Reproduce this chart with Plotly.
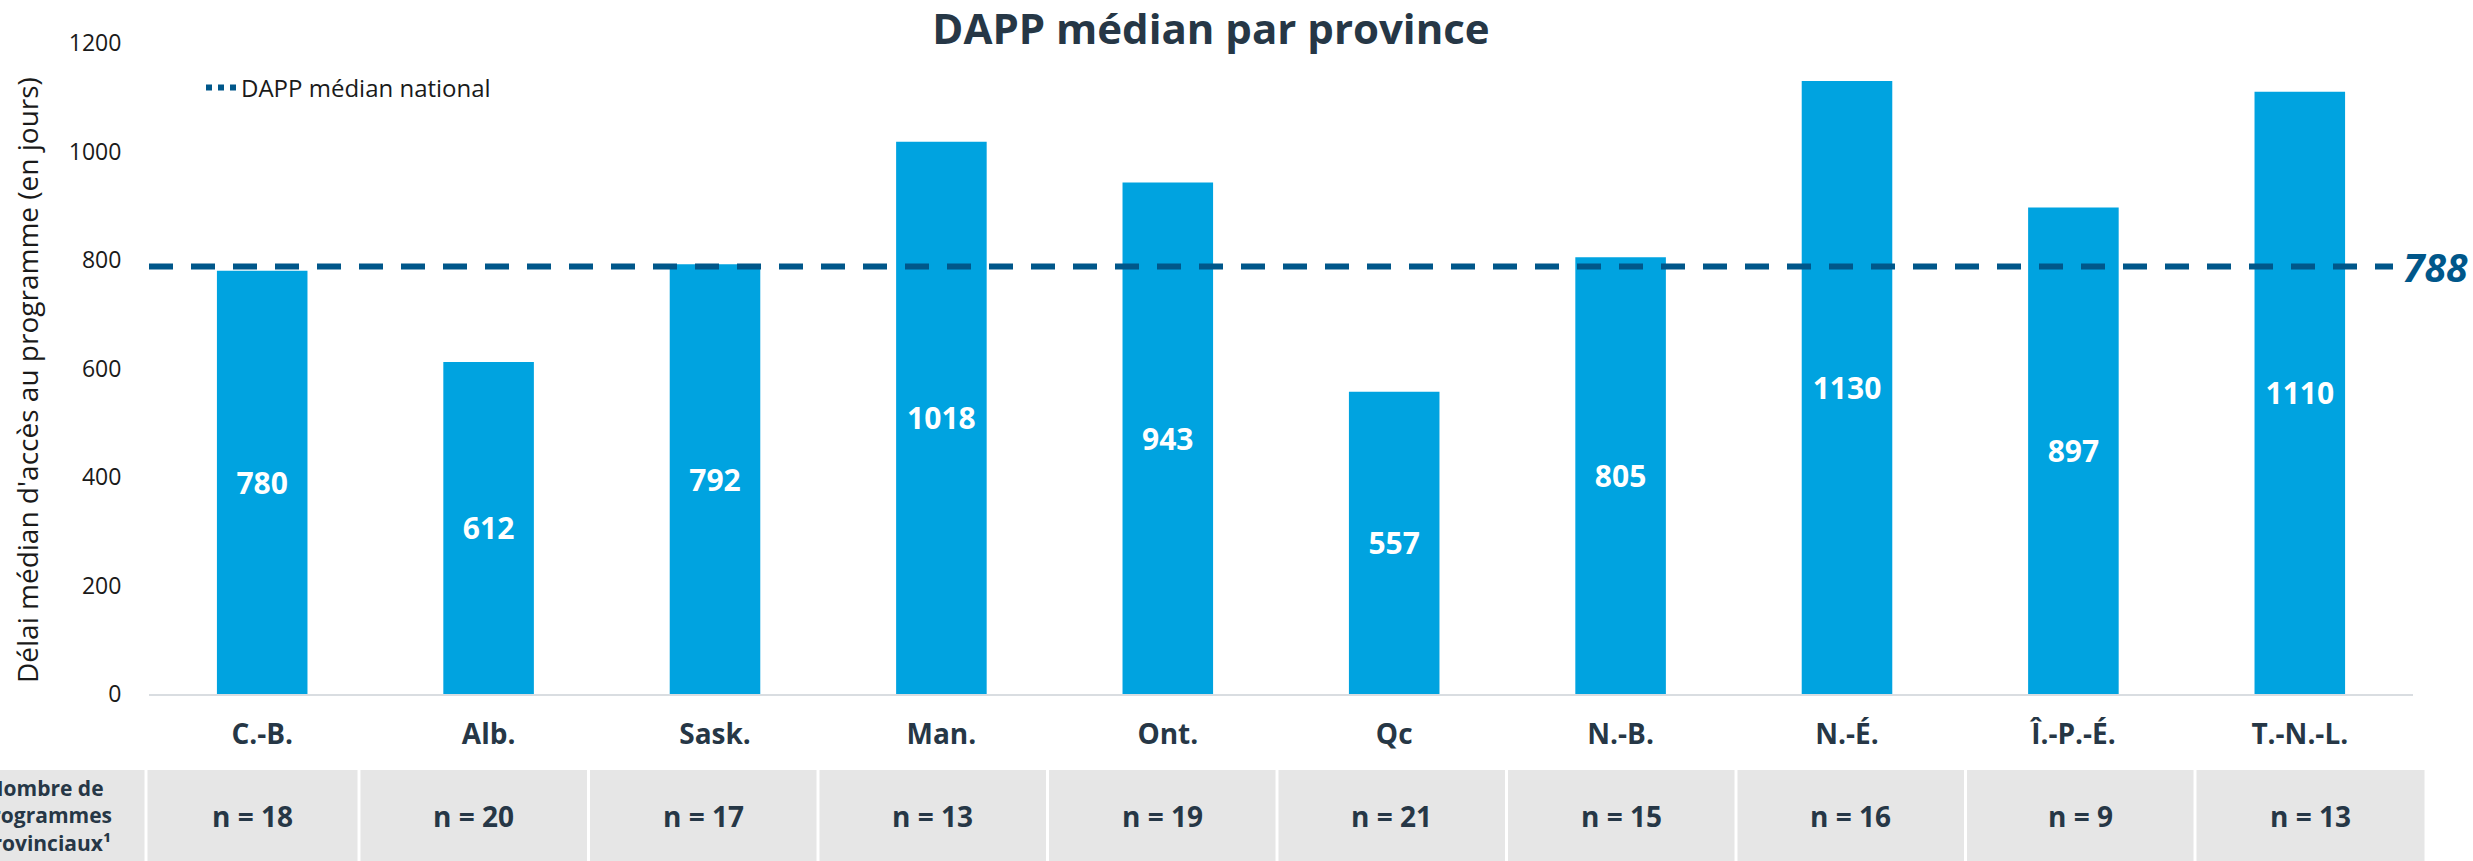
import plotly.graph_objects as go

# data
provinces = ["C.-B.", "Alb.", "Sask.", "Man.", "Ont.", "Qc", "N.-B.", "N.-É.", "Î.-P.-É.", "T.-N.-L."]
dapp_median = [780, 612, 792, 1018, 943, 557, 805, 1130, 897, 1110]
n_programs = [18, 20, 17, 13, 19, 21, 15, 16, 9, 13]
national_median = 788
y_ticks = [0, 200, 400, 600, 800, 1000, 1200]

# look
W, H = 2473, 861
LEFT, RIGHT, TOP, BOTTOM = 149, 60, 43, 167
PLOT_W = W - LEFT - RIGHT
PLOT_H = H - TOP - BOTTOM
FONT = "Open Sans"
DARK = "#263746"
BAR_BLUE = "#00a3e0"
LINE_BLUE = "#00578a"
CELL_GREY = "#e6e6e6"

# table column edges (pixels in the page)
cell_edges = [146, 359, 588.5, 818, 1047.5, 1277, 1506.5, 1736, 1965.5, 2195, 2426]
row_top, row_bottom = 770, 861


def px_x(px):
    return (px - LEFT) / PLOT_W


def px_y(py):
    return (H - BOTTOM - py) / PLOT_H


fig = go.Figure()

fig.add_trace(go.Bar(
    x=provinces, y=dapp_median,
    marker=dict(color=BAR_BLUE, line=dict(width=0)),
    text=dapp_median, texttemplate="<b>%{text}</b>",
    textposition="inside", insidetextanchor="middle", textangle=0,
    textfont=dict(family=FONT, size=30, color="white"),
    showlegend=False, hoverinfo="x+y",
))

# legend entry for the national median
fig.add_trace(go.Scatter(
    x=[None], y=[None], mode="lines",
    line=dict(color=LINE_BLUE, width=6, dash="dot"),
    name="DAPP médian national",
))

# national median dashed line
fig.add_shape(type="line", xref="paper", yref="y",
              x0=0, x1=px_x(2393), y0=national_median, y1=national_median,
              line=dict(color=LINE_BLUE, width=6, dash="24px,18px"), layer="above")
fig.add_annotation(xref="paper", yref="y", x=px_x(2470), y=national_median,
                   text=f"<b><i>{national_median}</i></b>", showarrow=False,
                   xanchor="right", yanchor="middle",
                   font=dict(family=FONT, size=39, color=LINE_BLUE))

# y axis title
fig.add_annotation(xref="paper", yref="paper", x=px_x(27), y=px_y(380),
                   text="Délai médian d'accès au programme (en jours)", showarrow=False,
                   textangle=-90, xanchor="center", yanchor="middle",
                   font=dict(family=FONT, size=28, color="#1a1a1a"))

# table row with number of programmes
fig.add_shape(type="rect", xref="paper", yref="paper",
              x0=px_x(-20), x1=px_x(cell_edges[0] - 1.5),
              y0=px_y(row_bottom + 5), y1=px_y(row_top),
              fillcolor=CELL_GREY, line=dict(width=0), layer="below")
fig.add_annotation(xref="paper", yref="paper", x=px_x(45), y=px_y((row_top + row_bottom) / 2),
                   text="<b>Nombre de<br>programmes<br>provinciaux¹</b>", showarrow=False,
                   align="center", xanchor="center", yanchor="middle",
                   font=dict(family=FONT, size=21, color=DARK))
for i, n in enumerate(n_programs):
    x0, x1 = cell_edges[i], cell_edges[i + 1]
    fig.add_shape(type="rect", xref="paper", yref="paper",
                  x0=px_x(x0 + 1.5), x1=px_x(x1 - 1.5),
                  y0=px_y(row_bottom + 5), y1=px_y(row_top),
                  fillcolor=CELL_GREY, line=dict(width=0), layer="below")
    fig.add_annotation(xref="paper", yref="paper", x=px_x((x0 + x1) / 2),
                       y=px_y((row_top + row_bottom) / 2),
                       text=f"<b>n = {n}</b>", showarrow=False,
                       xanchor="center", yanchor="middle",
                       font=dict(family=FONT, size=28, color=DARK))

fig.update_layout(
    width=W, height=H,
    margin=dict(l=LEFT, r=RIGHT, t=TOP, b=BOTTOM, pad=0, autoexpand=False),
    paper_bgcolor="white", plot_bgcolor="white",
    font=dict(family=FONT, color="#1a1a1a"),
    bargap=0.6,
    title=dict(text="<b>DAPP médian par province</b>", x=1211 / W, xref="container",
               xanchor="center", y=1 - 29 / H, yref="container", yanchor="middle",
               font=dict(family=FONT, size=42, color=DARK)),
    legend=dict(x=px_x(201), y=px_y(88), xanchor="left", yanchor="middle",
                bgcolor="rgba(0,0,0,0)", font=dict(family=FONT, size=24, color="#1a1a1a")),
)
fig.update_xaxes(
    automargin=False,
    showgrid=False, showline=True, linecolor="#d9dde1", linewidth=2,
    ticks="", ticklabelstandoff=14,
    tickfont=dict(family=FONT, size=28, color=DARK, weight="bold"),
)
fig.update_yaxes(
    automargin=False,
    range=[0, 1200], tickvals=y_ticks, showgrid=False, zeroline=False, showline=False,
    ticks="outside", ticklen=22, tickcolor="rgba(0,0,0,0)",
    tickfont=dict(family=FONT, size=23, color="#1a1a1a"),
)

# drop the default page margin so the figure sits at the window's top-left corner
fig.write_html("out.html", config={"displayModeBar": False},
               post_script="document.body.style.margin='0';")
